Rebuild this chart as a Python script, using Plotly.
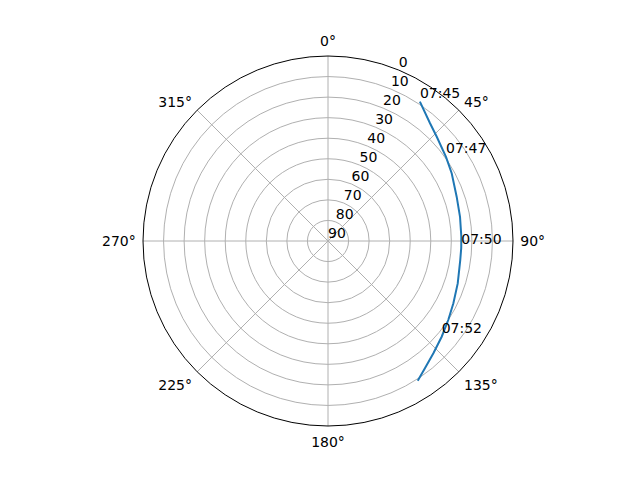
import plotly.graph_objects as go

# Satellite pass track (azimuth deg clockwise from North, elevation deg)
azimuth = [33.4, 40.9, 46.2, 54.5, 61.3, 71.0, 79.6, 88.2, 93.0, 98.2,
           108.1, 116.4, 123.3, 130.1, 136.8, 142.7, 147.3]
elevation = [8.8, 14.2, 16.7, 19.5, 21.4, 23.8, 24.7, 25.1, 25.1, 25.0,
             23.6, 21.9, 20.0, 17.7, 15.1, 12.2, 9.2]
time_labels = ["07:45", "", "", "07:47", "", "", "", "", "07:50", "",
               "", "", "", "07:52", "", "", ""]

angle_ticks = [0, 45, 90, 135, 180, 225, 270, 315]
radial_ticks = [0, 10, 20, 30, 40, 50, 60, 70, 80, 90]
radial_label_angle = 22.5

lab_az = [a for a, t in zip(azimuth, time_labels) if t]
lab_el = [e for e, t in zip(elevation, time_labels) if t]
lab_tx = [t for t in time_labels if t]

FONT = "DejaVu Sans"
FS = 14

fig = go.Figure()
fig.add_trace(go.Scatterpolar(
    theta=azimuth, r=elevation, mode="lines",
    line=dict(color="#1f77b4", width=2), showlegend=False,
    hoverinfo="skip"))
fig.add_trace(go.Scatterpolar(
    theta=lab_az, r=lab_el, mode="text", text=lab_tx,
    textposition="top right",
    textfont=dict(family=FONT, size=FS, color="black"),
    showlegend=False, hoverinfo="skip"))
# radial tick labels, placed like matplotlib's (bottom-left anchored on the 22.5° ray)
fig.add_trace(go.Scatterpolar(
    theta=[radial_label_angle] * len(radial_ticks), r=radial_ticks,
    mode="text", text=[str(v) for v in radial_ticks],
    textposition="top right",
    textfont=dict(family=FONT, size=FS, color="black"),
    showlegend=False, hoverinfo="skip", cliponaxis=False))

fig.update_layout(
    width=640, height=480,
    margin=dict(l=0, r=0, t=0, b=0),
    paper_bgcolor="white",
    font=dict(family=FONT, size=FS, color="black"),
    polar=dict(
        domain=dict(x=[143/640, 513/640], y=[54/480, 424/480]),
        bgcolor="white",
        angularaxis=dict(
            rotation=90, direction="clockwise",
            tickmode="array", tickvals=angle_ticks,
            ticktext=[f"{a}°" for a in angle_ticks],
            showline=True, linecolor="black", linewidth=1,
            showgrid=True, gridcolor="#b0b0b0", gridwidth=1,
            ticks="outside", ticklen=4, tickcolor="rgba(0,0,0,0)",
            tickfont=dict(family=FONT, size=FS, color="black"),
        ),
        radialaxis=dict(
            range=[90, 0], angle=67.5,
            tickmode="array", tickvals=radial_ticks,
            showticklabels=False,
            showline=False, showgrid=True, gridcolor="#b0b0b0", gridwidth=1,
            ticks="",
        ),
    ),
)

fig.write_html("out.html", post_script="document.body.style.margin='0';",
               config={"displayModeBar": False})
